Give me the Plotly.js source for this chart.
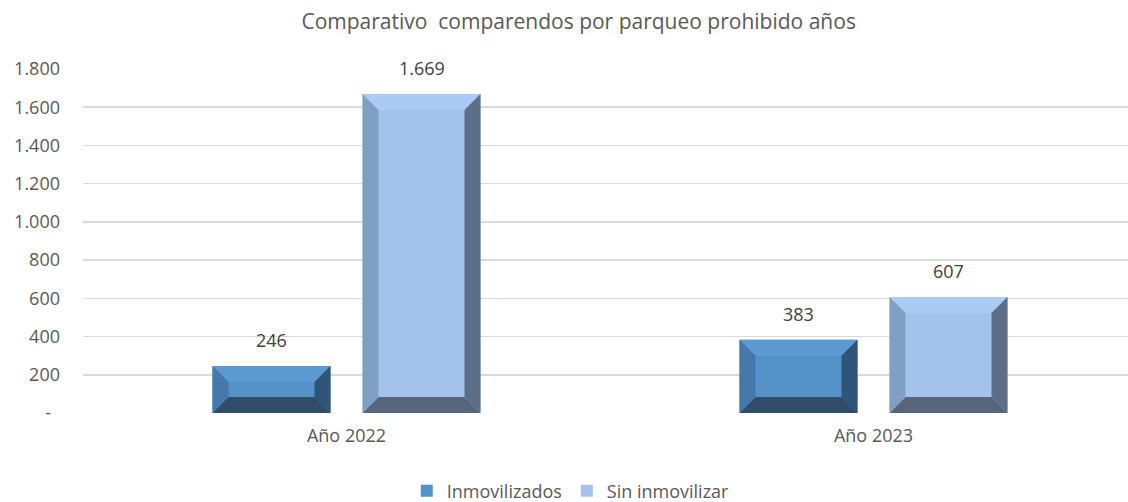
<!DOCTYPE html>
<html><head><meta charset="utf-8">
<script src="https://cdn.plot.ly/plotly-3.0.1.min.js"></script>
<style>html,body{margin:0;padding:0;background:#fff}#chart{width:1128px;height:502px}</style>
</head><body><div id="chart"></div>
<script>
// ---- data ----
const categories = ["Año 2022", "Año 2023"];
const seriesNames = ["Inmovilizados", "Sin inmovilizar"];
const inmovilizados = [246, 383];
const sinInmovilizar = [1669, 607];
const yTickValues = [0, 200, 400, 600, 800, 1000, 1200, 1400, 1600, 1800];
const yTickLabels = ["-\u2002", "200", "400", "600", "800", "1.000", "1.200", "1.400", "1.600", "1.800"];
const chartTitle = "Comparativo  comparendos por parqueo prohibido años";

// ---- layout constants ----
const W = 1128, H = 502;
const M = {l: 83, r: 0, t: 69, b: 89};
const plotW = W - M.l - M.r, plotH = H - M.t - M.b;
const pxPerCat = 527;
const xRange = [-0.5, -0.5 + plotW / pxPerCat];
const yRange = [0, 1800];
const barW = 118 / pxPerCat;
const innerGap = 32 / pxPerCat;
const offsets = [-(barW + innerGap / 2), innerGap / 2];
const bevelPx = 16;
const bx = bevelPx / pxPerCat;
const by = bevelPx * (yRange[1] - yRange[0]) / plotH;

const styles = [
  {face: "#5592CA", top: "#5C9AD2", left: "#4479A9", right: "#2F5579", bottom: "#2F4C6A"},
  {face: "#A4C3EC", top: "#A9CBF4", left: "#7F9FC3", right: "#5C6F87", bottom: "#56657A"}
];
const seriesValues = [inmovilizados, sinInmovilizar];
const xIdx = categories.map((c, i) => i);

function fmt(v) { return String(v).replace(/\B(?=(\d{3})+(?!\d))/g, "."); }

const traces = seriesValues.map((vals, s) => ({
  type: "bar", name: seriesNames[s], x: xIdx, y: vals,
  width: barW, offset: offsets[s],
  marker: {color: styles[s].face, line: {width: 0}},
  hoverinfo: "skip"
}));

const shapes = [];
const annotations = [];
seriesValues.forEach((vals, s) => {
  vals.forEach((v, i) => {
    const x0 = xIdx[i] + offsets[s], x1 = x0 + barW, y0 = 0, y1 = v;
    const poly = (pts, col) => shapes.push({
      type: "path", xref: "x", yref: "y", layer: "above",
      path: "M" + pts.map(p => p[0] + "," + p[1]).join(" L") + " Z",
      fillcolor: col, line: {width: 0}
    });
    poly([[x0, y1], [x1, y1], [x1 - bx, y1 - by], [x0 + bx, y1 - by]], styles[s].top);
    poly([[x0, y0], [x1, y0], [x1 - bx, y0 + by], [x0 + bx, y0 + by]], styles[s].bottom);
    poly([[x0, y0], [x0, y1], [x0 + bx, y1 - by], [x0 + bx, y0 + by]], styles[s].left);
    poly([[x1, y0], [x1, y1], [x1 - bx, y1 - by], [x1 - bx, y0 + by]], styles[s].right);
    annotations.push({
      xref: "x", yref: "y", x: x0 + barW / 2, y: v, text: fmt(v),
      showarrow: false, yanchor: "bottom", yshift: 12,
      font: {family: "Open Sans", size: 18, color: "#404040"}
    });
  });
});

const layout = {
  width: W, height: H, autosize: false,
  margin: M,
  paper_bgcolor: "#fff", plot_bgcolor: "#fff",
  font: {family: "Open Sans", size: 18, color: "#595959"},
  title: {text: chartTitle, font: {family: "Open Sans", size: 21, color: "#595959"},
          x: 0.513, xanchor: "center", y: 1 - 22 / H, yanchor: "middle"},
  barmode: "overlay",
  showlegend: true,
  legend: {orientation: "h", xref: "container", yref: "container",
           x: 0.506, xanchor: "center", y: 1 - 491 / H, yanchor: "middle",
           font: {family: "Open Sans", size: 18, color: "#595959"}, traceorder: "normal"},
  xaxis: {range: xRange, tickvals: xIdx, ticktext: categories, showgrid: false,
          zeroline: false, showline: false, ticks: "", ticklabelstandoff: 10,
          fixedrange: true},
  yaxis: {range: yRange, tickvals: yTickValues, ticktext: yTickLabels,
          showgrid: true, gridcolor: "#D9D9D9", gridwidth: 1.5, zeroline: false,
          showline: false, ticks: "", ticklabelstandoff: 22, fixedrange: true},
  shapes: shapes, annotations: annotations
};

Plotly.newPlot("chart", traces, layout, {displayModeBar: false, staticPlot: true});
</script>
</body></html>
